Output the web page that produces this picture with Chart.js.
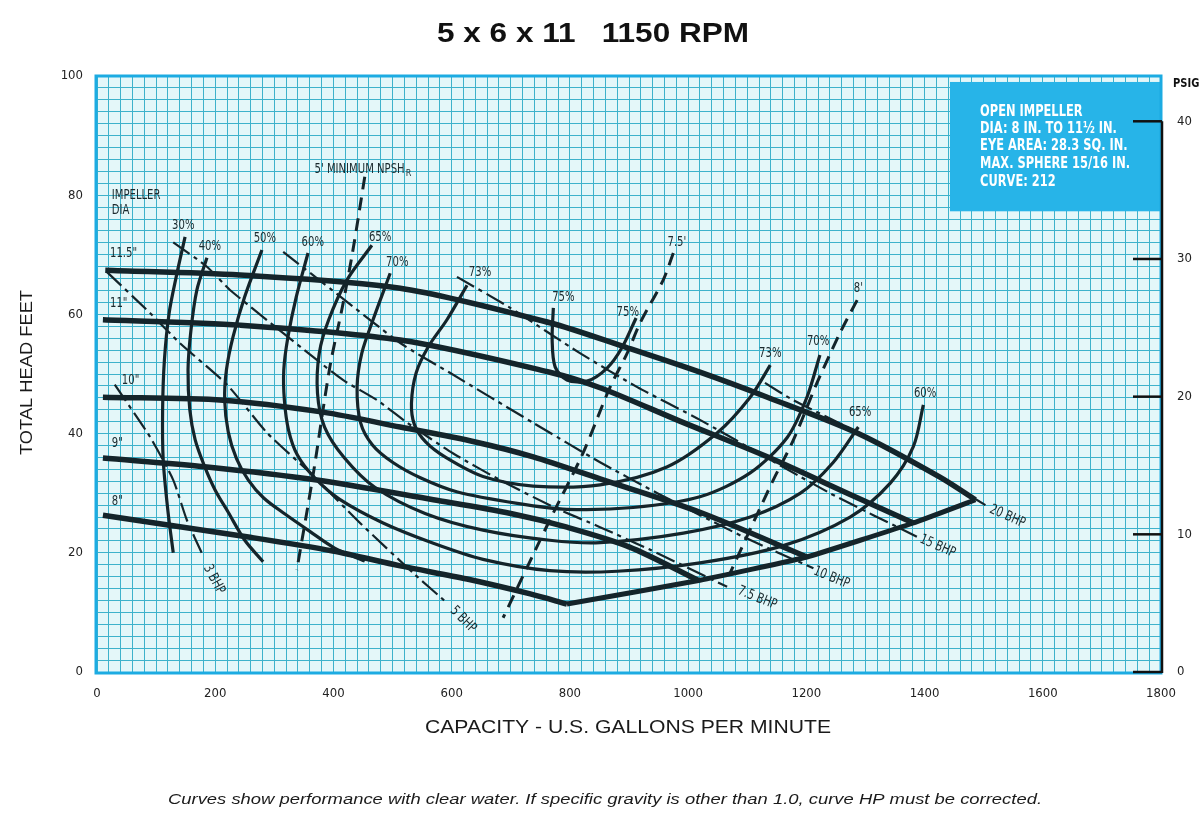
<!DOCTYPE html>
<html><head><meta charset="utf-8">
<script src="https://cdn.jsdelivr.net/npm/chart.js@4.4.0/dist/chart.umd.min.js"></script>
<style>html,body{margin:0;padding:0;background:#fff;}#wrap{width:1200px;height:826px;}</style>
</head><body><div id="wrap"><canvas id="c" width="1200" height="826"></canvas></div>
<script>
// ---------------- DATA (GPM, feet) ----------------
const title = '5 x 6 x 11   1150 RPM';
const xTitle = 'CAPACITY - U.S. GALLONS PER MINUTE';
const yTitle = 'TOTAL HEAD FEET';
const y2Title = 'PSIG';
const footer = 'Curves show performance with clear water. If specific gravity is other than 1.0, curve HP must be corrected.';
const xTickLabels = [0,200,400,600,800,1000,1200,1400,1600,1800];
const yTickLabels = [0,20,40,60,80,100];
const psiTickLabels = [0,10,20,30,40];
const feetPerPsi = 2.31;

// impeller diameter head curves
const dia115 = [[14,67.4],[242,66.6],[513,64.4],[766,58.6],[897,54.4],[1020,50.3],[1134,46.1],[1286,40.1],[1426,32.7],[1486,28.9]];
const dia11  = [[10,59.1],[242,58.2],[513,55.7],[766,50.3],[851,47.7],[986,42.1],[1134,36.1],[1274,29.8],[1381,25.0]];
const dia10  = [[10,46.1],[213,45.6],[382,43.6],[513,41.1],[640,38.6],[738,36.1],[851,32.4],[1020,26.8],[1201,19.3]];
const dia9   = [[10,35.9],[186,34.4],[372,32.2],[569,28.9],[700,26.6],[795,24.3],[900,21.0],[1017,15.4]];
const dia8   = [[10,26.3],[259,22.6],[399,20.3],[513,17.8],[626,15.6],[733,13.1],[795,11.4]];
const endOfCurve = [[795,11.4],[1020,15.4],[1201,19.3],[1381,25.0],[1486,28.9]];

// efficiency curves
const eff30 = [[149,73.0],[134,66.3],[122,60.2],[114,52.3],[111,44.0],[112,35.6],[120,27.0],[129,20.0]];
const eff40 = [[186,69.5],[169,64.1],[159,57.4],[154,50.7],[157,44.0],[166,39.0],[182,34.5],[200,30.5],[222,26.8],[250,22.1],[281,18.5]];
const eff50 = [[279,70.8],[250,63.0],[230,56.2],[219,50.7],[216,45.6],[222,40.3],[236,35.8],[256,32.2],[282,29.2],[318,26.5],[360,23.6],[402,20.8],[453,18.6]];
const eff60 = [[357,70.3],[337,62.9],[323,56.2],[316,50.7],[317,45.6],[324,40.6],[339,36.4],[368,32.6],[410,29.0],[484,25.0],[569,21.6],[653,18.9],[766,17.0],[880,16.9],[1020,18.3],[1161,21.2],[1274,26.0],[1342,31.7],[1381,37.8],[1398,44.8]];
const eff65 = [[465,71.6],[423,65.8],[392,59.1],[376,53.5],[373,46.8],[385,41.1],[418,36.0],[470,31.0],[555,26.6],[653,23.8],[766,22.1],[851,21.7],[992,23.3],[1105,26.0],[1190,30.0],[1245,35.1],[1288,41.1]];
const eff70 = [[496,66.9],[467,59.1],[448,53.5],[440,47.8],[446,41.8],[466,38.1],[500,35.2],[547,32.6],[610,30.2],[711,28.3],[795,27.3],[907,27.6],[1020,29.4],[1105,33.4],[1168,39.4],[1201,46.1],[1223,53.2]];
const eff73 = [[626,64.9],[592,59.1],[560,54.5],[540,50.2],[532,45.1],[537,41.5],[556,38.6],[590,36.0],[653,32.8],[738,31.2],[851,31.4],[964,34.4],[1049,40.1],[1105,46.1],[1139,51.5]];
const eff75 = [[772,61.1],[770,55.7],[775,51.2],[795,49.0],[829,48.8],[863,51.0],[888,54.4],[912,59.4]];

// brake horsepower lines
const bhp3   = [[30,48.2],[90,39.4],[129,32.2],[152,25.5],[179,19.6]];
const bhp5   = [[17,67.1],[90,60.2],[140,55.2],[220,48.2],[288,40.1],[365,33.0],[445,25.0],[535,16.6],[592,11.6]];
const bhp7_5 = [[129,72.1],[186,68.0],[225,64.1],[365,52.9],[416,49.0],[474,45.6],[525,41.8],[602,36.7],[682,32.2],[772,27.7],[851,24.3],[936,20.5],[1066,14.3]];
const bhp10  = [[315,70.5],[382,65.3],[513,55.2],[597,50.2],[738,41.8],[851,35.2],[948,30.0],[1093,22.7],[1212,17.4]];
const bhp15  = [[609,66.3],[699,61.1],[817,53.5],[914,47.8],[1020,42.3],[1240,30.0],[1387,22.7]];
const bhp20  = [[1130,48.5],[1178,45.6],[1279,40.6],[1409,33.6],[1503,28.0]];

// NPSH required lines
const npsh5   = [[453,83.1],[433,70.8],[415,61.2],[394,51.2],[365,32.7],[338,17.1]];
const npsh7_5 = [[975,70.3],[958,65.8],[919,58.6],[897,53.5],[868,47.8],[822,36.7],[766,25.5],[687,9.1]];
const npsh8   = [[1286,62.4],[1257,56.9],[1218,48.5],[1178,38.9],[1144,32.2],[1110,25.0],[1071,16.6]];

// in-plot text labels (anchor in GPM, feet)
const diaLabels   = ['IMPELLER','DIA','11.5"','11"','10"','9"','8"'];
const diaLabelAt  = [[25,79.9],[25,77.4],[22,70.2],[22,61.8],[42,49.0],[25,38.4],[25,28.7]];
const effLabels   = ['30%','40%','50%','60%','65%','70%','73%','75%','75%','73%','70%','65%','60%'];
const effLabelAt  = [[146,75.0],[191,71.5],[284,72.7],[365,72.1],[479,73.0],[508,68.8],[648,67.1],[789,62.9],[898,60.4],[1139,53.4],[1220,55.5],[1291,43.5],[1401,46.8]];
const bhpLabels   = ['3 BHP','5 BHP','7.5 BHP','10 BHP','15 BHP','20 BHP'];
const bhpLabelAt  = [[183,18.3],[597,11.0],[1080,13.9],[1208,17.2],[1388,22.6],[1506,27.6]];
const bhpLabelRot = [62,45,22,22,24,24];
const npshLabels  = ["7.5'","8'"];
const npshLabelAt = [[981,72.1],[1288,64.4]];
const npshMain    = "5' MINIMUM NPSH";
const npshMainAt  = [368,84.4];
const infoLines   = ['OPEN IMPELLER','DIA: 8 IN. TO 11\u00BD IN.','EYE AREA: 28.3 SQ. IN.','MAX. SPHERE 15/16 IN.','CURVE: 212'];
const infoLineAt  = [1494, [94.0,91.2,88.2,85.2,82.3]];
const infoBoxAt   = [1443, 99.0, 77.3];

// ---------------- CHART ----------------
const INK = '#14242a';
const pts = a => a.map(([x,y]) => ({x, y}));
function ds(arr, w, dash, t){
  return {data: pts(arr), showLine: true, borderColor: INK, borderWidth: w, borderDash: dash || [],
          pointRadius: 0, tension: t === undefined ? 0.3 : t, fill: false, borderCapStyle: 'butt', borderJoinStyle: 'round'};
}
const datasets = [
  ...[eff30,eff40,eff50,eff60,eff65,eff70,eff73,eff75].map(a => ds(a, 3.2, [], 0.3)),
  ...[bhp3,bhp5,bhp7_5,bhp10,bhp15,bhp20].map(a => ds(a, 2.2, [20,5,4,5], 0.2)),
  ...[npsh5,npsh7_5,npsh8].map(a => ds(a, 3, [13,8], 0.3)),
  ...[dia115,dia11,dia10,dia9,dia8].map(a => ds(a, 5.5, [], 0.3)),
  ds(endOfCurve, 5, [], 0.1)
];

const NARROW = '"Liberation Sans Narrow","DejaVu Sans Condensed","Arial Narrow",Arial,sans-serif';
const SANS = '"Liberation Sans",Arial,Helvetica,sans-serif';

// draw text stretched/condensed horizontally to a given width or scale
function fitText(ctx, text, x, y, opts){
  const m = ctx.measureText(text).width;
  const sx = opts.width ? opts.width / m : (opts.sx || 1);
  ctx.save();
  ctx.translate(x, y);
  if (opts.rot) ctx.rotate(opts.rot);
  ctx.scale(sx, 1);
  ctx.fillText(text, 0, 0);
  ctx.restore();
  return m * sx;
}

const decor = {
  id: 'decor',
  beforeDraw(chart){
    const {ctx, chartArea: a} = chart;
    ctx.save();
    ctx.fillStyle = '#fff'; ctx.fillRect(0,0,chart.width,chart.height);
    ctx.fillStyle = '#e4f7f9'; ctx.fillRect(a.left, a.top, a.right-a.left, a.bottom-a.top);
    ctx.restore();
  },
  afterDatasetsDraw(chart){
    const {ctx, chartArea: a, scales} = chart;
    const X = v => scales.x.getPixelForValue(v), Y = v => scales.y.getPixelForValue(v);
    const P = v => scales.y2.getPixelForValue(v);
    ctx.save();
    // info box
    const bx = X(infoBoxAt[0]), by = Y(infoBoxAt[1]), bb = Y(infoBoxAt[2]);
    ctx.fillStyle = '#27b4e8';
    ctx.fillRect(bx, by, a.right - bx, bb - by);
    ctx.fillStyle = '#ffffff';
    ctx.font = 'bold 16px ' + NARROW;
    ctx.textAlign = 'left'; ctx.textBaseline = 'middle';
    const infoSx = 150 / ctx.measureText(infoLines[3]).width;
    infoLines.forEach((t,i) => fitText(ctx, t, X(infoLineAt[0]), Y(infoLineAt[1][i]), {sx: infoSx}));
    // plot border
    ctx.strokeStyle = '#1cabe2'; ctx.lineWidth = 3;
    ctx.strokeRect(a.left-1, a.top, a.right-a.left+1, a.bottom-a.top+1);
    // PSIG axis line and ticks
    ctx.strokeStyle = '#111'; ctx.lineWidth = 2.5;
    ctx.beginPath(); ctx.moveTo(a.right+1, P(40)); ctx.lineTo(a.right+1, a.bottom+1); ctx.stroke();
    psiTickLabels.forEach(v => { ctx.beginPath(); ctx.moveTo(a.right-28, P(v)); ctx.lineTo(a.right+1, P(v)); ctx.stroke(); });
    // in-plot labels
    ctx.fillStyle = '#1b2a2e';
    ctx.font = '14px ' + NARROW;
    ctx.textBaseline = 'middle';
    ctx.textAlign = 'left';
    diaLabels.forEach((t,i) => fitText(ctx, t, X(diaLabelAt[i][0]), Y(diaLabelAt[i][1]), {sx: 0.8}));
    ctx.textAlign = 'center';
    effLabels.forEach((t,i) => fitText(ctx, t, X(effLabelAt[i][0]), Y(effLabelAt[i][1]), {sx: 0.8}));
    npshLabels.forEach((t,i) => fitText(ctx, t, X(npshLabelAt[i][0]), Y(npshLabelAt[i][1]), {sx: 0.8}));
    ctx.textAlign = 'left';
    const mx = X(npshMainAt[0]), my = Y(npshMainAt[1]);
    const w = fitText(ctx, npshMain, mx, my, {sx: 0.8});
    ctx.font = '9px ' + NARROW; ctx.fillText('R', mx + w + 1, my + 5);
    ctx.font = '14px ' + NARROW;
    bhpLabels.forEach((t,i) => {
      ctx.save();
      ctx.translate(X(bhpLabelAt[i][0]), Y(bhpLabelAt[i][1]));
      ctx.rotate(bhpLabelRot[i] * Math.PI / 180);
      ctx.scale(0.82, 1);
      ctx.fillText(t, 4, 0);
      ctx.restore();
    });
    ctx.restore();
  },
  afterDraw(chart){
    const {ctx, chartArea: a} = chart;
    ctx.save();
    ctx.fillStyle = '#111';
    ctx.textAlign = 'left'; ctx.textBaseline = 'middle';
    ctx.font = 'bold 28px ' + SANS;
    fitText(ctx, title, 437, 34, {width: 312});
    ctx.fillStyle = '#1a1a1a';
    ctx.font = '19px ' + SANS;
    fitText(ctx, xTitle, 425, 728, {width: 406});
    ctx.font = 'italic 15px ' + SANS;
    fitText(ctx, footer, 168, 800, {width: 874});
    ctx.font = '16px ' + SANS;
    ctx.save();
    ctx.translate(28, 455); ctx.rotate(-Math.PI/2);
    fitText(ctx, yTitle, 0, 0, {width: 165});
    ctx.restore();
    ctx.fillStyle = '#111';
    ctx.font = 'bold 13px ' + NARROW;
    fitText(ctx, y2Title, a.right + 12, 84, {sx: 0.85});
    ctx.restore();
  }
};

new Chart(document.getElementById('c'), {
  type: 'scatter',
  data: { datasets },
  options: {
    responsive: false, animation: false, devicePixelRatio: 1,
    layout: { padding: { top: 76, left: 0, right: 0, bottom: 0 } },
    plugins: { legend: { display: false }, tooltip: { enabled: false }, title: { display: false } },
    scales: {
      x: {
        type: 'linear', min: 0, max: 1800,
        afterFit: s => { s.height = 154; },
        ticks: { stepSize: 20, autoSkip: false, maxRotation: 0, padding: 14, color: '#222',
                 font: { family: NARROW, size: 13 },
                 callback: v => xTickLabels.includes(v) ? String(v) : '' },
        grid: { color: '#3eb2cb', lineWidth: 1, drawTicks: false },
        border: { display: false }
      },
      y: {
        type: 'linear', min: 0, max: 100, position: 'left',
        afterFit: s => { s.width = 97; },
        ticks: { stepSize: 2, autoSkip: false, padding: 14, color: '#222',
                 font: { family: NARROW, size: 13 },
                 callback: v => yTickLabels.includes(v) ? String(v) : '' },
        grid: { color: '#3eb2cb', lineWidth: 1, drawTicks: false },
        border: { display: false }
      },
      y2: {
        type: 'linear', min: 0, max: 100 / feetPerPsi, position: 'right',
        afterFit: s => { s.width = 39; },
        ticks: { stepSize: 10, autoSkip: false, padding: 16, color: '#222', includeBounds: false,
                 font: { family: NARROW, size: 13 },
                 callback: v => psiTickLabels.includes(v) ? String(v) : '' },
        grid: { display: false, drawTicks: false },
        border: { display: false }
      }
    }
  },
  plugins: [decor]
});
</script></body></html>
